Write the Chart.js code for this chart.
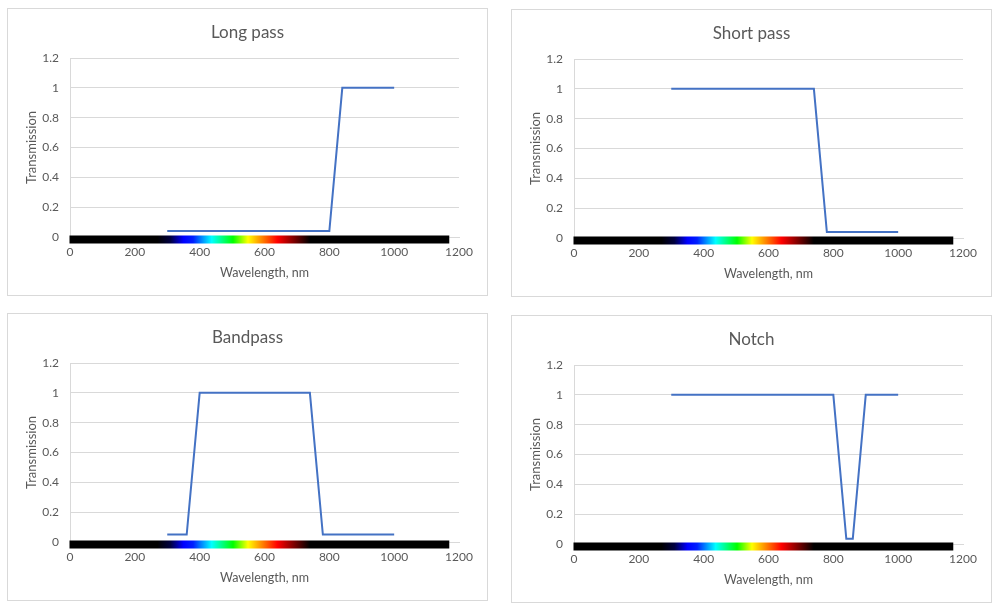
<!DOCTYPE html>
<html>
<head>
<meta charset="utf-8">
<script src="https://cdn.jsdelivr.net/npm/chart.js@4.4.1/dist/chart.umd.min.js"></script>
<style>
  html, body { margin: 0; padding: 0; background: #ffffff; }
  body { width: 1003px; height: 611px; position: relative; overflow: hidden; }
  .panel { position: absolute; width: 481px; height: 288px; box-sizing: border-box; border: 1px solid #d9d9d9; background: #fff; }
  .panel canvas { position: absolute; left: 0; top: 0; }
</style>
</head>
<body>
<div class="panel" style="left:7px;top:8px;"><canvas id="c1" width="479" height="286"></canvas></div>
<div class="panel" style="left:511px;top:9px;"><canvas id="c2" width="479" height="286"></canvas></div>
<div class="panel" style="left:7px;top:313px;"><canvas id="c3" width="479" height="286"></canvas></div>
<div class="panel" style="left:511px;top:315px;"><canvas id="c4" width="479" height="286"></canvas></div>
<script>
// ---- Data ----
const chartTitles = ["Long pass", "Short pass", "Bandpass", "Notch"];

const longPassX = [300, 800, 840, 1000];
const longPassY = [0.04, 0.04, 1, 1];

const shortPassX = [300, 740, 780, 1000];
const shortPassY = [1, 1, 0.04, 0.04];

const bandpassX = [300, 360, 400, 740, 780, 1000];
const bandpassY = [0.05, 0.05, 1, 1, 0.05, 0.05];

const notchX = [300, 800, 840, 860, 900, 1000];
const notchY = [1, 1, 0.035, 0.035, 1, 1];

const xTickValues = [0, 200, 400, 600, 800, 1000, 1200];
const yTickValues = [0, 0.2, 0.4, 0.6, 0.8, 1, 1.2];
const yTickLabels = ["0", "0.2", "0.4", "0.6", "0.8", "1", "1.2"];

const xAxisTitle = "Wavelength, nm";
const yAxisTitle = "Transmission";

// spectrum strip (wavelength stops and colours)
const spectrumRange = [0, 1170];
const spectrumStops  = [0, 270, 310, 350, 380, 400, 437, 470, 503, 549, 585, 640, 690, 740, 1170];
const spectrumColors = ["#000000", "#000000", "#000040", "#0000ff", "#0020ff", "#0070ff", "#00ffff",
                        "#00ff80", "#00ff00", "#ffff00", "#ff9900", "#ff0000", "#800000", "#000000", "#000000"];

// ---- Rendering ----
const TEXT = "#595959";
const GRID = "#d9d9d9";
const FONT = "Lato, 'Open Sans', 'Noto Sans', sans-serif";

const spectrumPlugin = {
  id: "spectrum",
  beforeDatasetsDraw(chart) {
    const { ctx, scales: { x, y } } = chart;
    const x0 = x.getPixelForValue(spectrumRange[0]);
    const x1 = x.getPixelForValue(spectrumRange[1]);
    const y0 = y.getPixelForValue(0);
    const g = ctx.createLinearGradient(x0, 0, x1, 0);
    const span = spectrumRange[1] - spectrumRange[0];
    spectrumStops.forEach((w, i) => g.addColorStop((w - spectrumRange[0]) / span, spectrumColors[i]));
    ctx.save();
    ctx.fillStyle = g;
    ctx.fillRect(x0 - 0.5, y0 - 1.5, x1 - x0 + 0.5, 8);
    ctx.restore();
  }
};

function makeChart(id, title, xs, ys) {
  const pts = xs.map((v, i) => ({ x: v, y: ys[i] }));
  return new Chart(document.getElementById(id), {
    type: "line",
    data: {
      datasets: [{
        data: pts,
        borderColor: "#4472C4",
        borderWidth: 2,
        pointRadius: 0,
        tension: 0,
        fill: false,
        yAxisID: "y"
      }]
    },
    options: {
      responsive: false,
      animation: false,
      devicePixelRatio: 1,
      layout: { padding: { left: 14, right: 14, top: 0, bottom: 0 } },
      plugins: {
        legend: { display: false },
        tooltip: { enabled: false },
        title: {
          display: true,
          text: title,
          color: TEXT,
          font: { family: FONT, size: 17, weight: "normal" },
          padding: { top: 13, bottom: 15.6 }
        }
      },
      scales: {
        x: {
          type: "linear",
          min: 0,
          max: 1200,
          afterFit(scale) { scale.height = 58; },
          afterBuildTicks(scale) { scale.ticks = xTickValues.map(v => ({ value: v })); },
          grid: { display: false, drawTicks: false },
          border: { display: true, color: GRID, width: 1 },
          ticks: {
            color: TEXT,
            padding: 7.8,
            maxRotation: 0,
            font: { family: FONT, size: 12 },
            callback: (v) => String(v)
          },
          title: {
            display: true,
            text: xAxisTitle,
            color: TEXT,
            font: { family: FONT, size: 12.5 },
            padding: { top: 0, bottom: 14.5 }
          }
        },
        y: {
          type: "linear",
          position: "left",
          min: 0,
          max: 1.2,
          afterFit(scale) { scale.width = 48; },
          afterBuildTicks(scale) { scale.ticks = yTickValues.map(v => ({ value: v })); },
          grid: { color: GRID, lineWidth: 1, drawTicks: false },
          border: { display: true, color: GRID, width: 1 },
          ticks: {
            color: TEXT,
            padding: 11,
            font: { family: FONT, size: 12 },
            callback: (v, i) => yTickLabels[i]
          },
          title: {
            display: true,
            text: yAxisTitle,
            color: TEXT,
            font: { family: FONT, size: 13 },
            padding: { top: 2.2, bottom: 0 }
          }
        },
        yRightSpace: {
          type: "linear",
          position: "right",
          min: 0,
          max: 1.2,
          afterFit(scale) { scale.width = 14; },
          grid: { display: false, drawTicks: false },
          border: { display: false },
          ticks: { display: false },
          title: { display: false }
        }
      }
    },
    plugins: [spectrumPlugin]
  });
}

makeChart("c1", chartTitles[0], longPassX, longPassY);
makeChart("c2", chartTitles[1], shortPassX, shortPassY);
makeChart("c3", chartTitles[2], bandpassX, bandpassY);
makeChart("c4", chartTitles[3], notchX, notchY);
</script>
</body>
</html>
